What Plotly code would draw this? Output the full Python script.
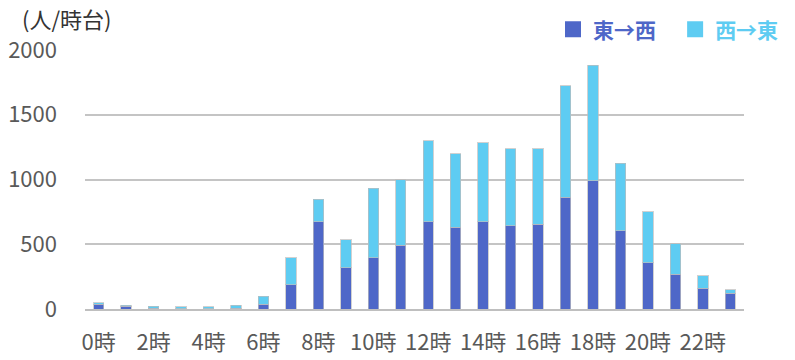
import plotly.graph_objects as go

hours = [f"{h}時" for h in range(24)]
east_to_west = [38, 20, 5, 3, 3, 5, 38, 188, 674, 318, 396, 494, 672, 633, 672, 643, 653, 862, 990, 605, 358, 267, 162, 120]
west_to_east = [10, 10, 15, 15, 15, 25, 62, 208, 175, 217, 535, 506, 628, 565, 613, 595, 585, 862, 891, 522, 393, 237, 95, 29]
tick_labels = [f"{h}時" for h in range(0, 24, 2)]
series_names = ["東→西", "西→東"]

dark = "#4E67C8"
light = "#5ECCF2"
colors = [dark, light]
font_family = "Noto Sans CJK JP, Noto Sans, sans-serif"

fig = go.Figure()
for vals, name, col in zip([east_to_west, west_to_east], series_names, colors):
    fig.add_trace(go.Bar(x=hours, y=vals, name=name, showlegend=False,
                         marker=dict(color=col, line=dict(color="rgba(190,190,190,0.7)", width=1))))
# legend entries with square swatches and coloured text
pads = ["&nbsp;&nbsp;&nbsp;", ""]
for name, col, pad in zip(series_names, colors, pads):
    fig.add_trace(go.Scatter(x=[None], y=[None], mode="markers",
                             name=f"<span style='color:{col}'><b>{name}</b></span>{pad}",
                             marker=dict(symbol="square", size=16, color=col), showlegend=True))

fig.update_layout(
    barmode="stack",
    bargap=0.62,
    width=795, height=360,
    margin=dict(l=85, r=51, t=50, b=51, autoexpand=False),
    paper_bgcolor="white", plot_bgcolor="white",
    font=dict(family=font_family, size=20, color="#595959"),
    legend=dict(orientation="h", x=(784 - 85) / 659, xanchor="right", y=(309.3 - 30) / 259, yanchor="middle",
                font=dict(size=21), traceorder="normal", bgcolor="rgba(0,0,0,0)", itemwidth=30),
    showlegend=True,
)
fig.update_xaxes(type="category", categoryarray=hours, tickvals=tick_labels, ticktext=tick_labels, showline=True,
                 linecolor="#BFBFBF", linewidth=2, ticks="", tickfont=dict(size=22, color="#595959"),
                 showgrid=False, ticklabelstandoff=13, automargin=False)
fig.update_yaxes(range=[0, 2000], tickvals=[0, 500, 1000, 1500, 2000], showgrid=True, gridcolor="#C4C4C4",
                 gridwidth=2, zeroline=False, ticks="", ticklabelstandoff=27, tickfont=dict(size=22, color="#595959"),
                 automargin=False)

fig.add_annotation(text="(人/時台)", xref="paper", yref="paper", x=(20 - 85) / 659, y=(309.3 - 18) / 259,
                   xanchor="left", yanchor="middle", showarrow=False, font=dict(size=22, color="#333333"))

fig.write_html("out.html")
